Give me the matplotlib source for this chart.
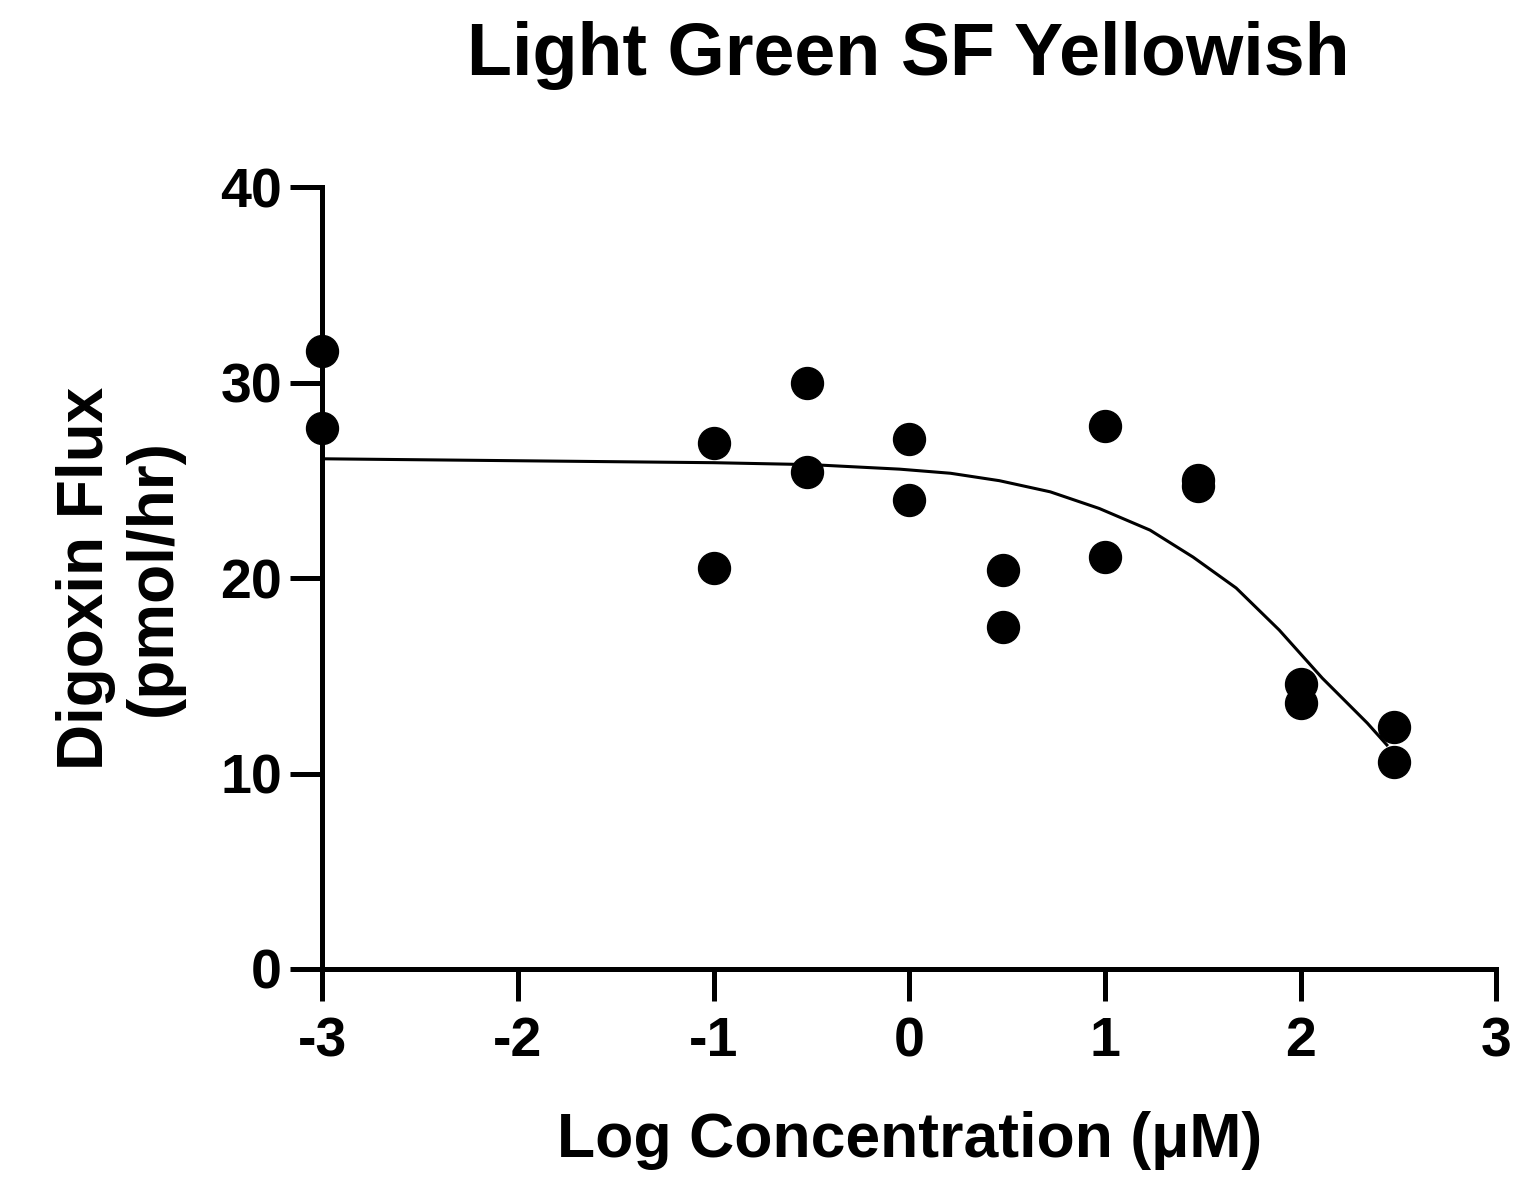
import numpy as np
from matplotlib import pyplot as plt

# measured points (log uM, pmol/hr)
log_conc = [-3, -3, -1, -1, -0.523, -0.523, 0, 0, 0.477, 0.477, 1, 1,
            1.477, 1.477, 2, 2, 2.477, 2.477]
flux = [31.6, 27.7, 26.9, 20.5, 30.0, 25.4, 27.1, 24.0, 20.4, 17.5,
        27.8, 21.1, 25.0, 24.7, 14.6, 13.6, 12.4, 10.6]

# fitted curve
fit_x = [-3, -2, -1, -0.5, -0.05, 0.21, 0.46, 0.72, 0.97, 1.23, 1.45,
         1.67, 1.89, 2.11, 2.34, 2.44]
fit_y = [26.1, 26.0, 25.9, 25.8, 25.57, 25.36, 24.98, 24.41, 23.56, 22.45, 21.07,
         19.49, 17.34, 14.88, 12.58, 11.46]

x_ticks = [-3, -2, -1, 0, 1, 2, 3]
y_ticks = [0, 10, 20, 30, 40]

plt.rcParams['font.family'] = ['Liberation Sans', 'DejaVu Sans']
plt.rcParams['font.weight'] = 'bold'

fig = plt.figure(figsize=(15.27, 11.84), dpi=100)
ax = fig.add_axes([0.211, 0.1816, 0.769, 0.6604])

ax.plot(fit_x, fit_y, color='black', lw=2.2, zorder=2)
ax.plot(log_conc, flux, 'o', color='black', ms=23, zorder=3, clip_on=False)

ax.set_xlim(-3, 3)
ax.set_ylim(0, 40)
ax.set_xticks(x_ticks)
ax.set_yticks(y_ticks)
ax.set_xticklabels([str(t) for t in x_ticks])
ax.set_yticklabels([str(t) for t in y_ticks])

for s in ['top', 'right']:
    ax.spines[s].set_visible(False)
for s in ['left', 'bottom']:
    ax.spines[s].set_linewidth(3.6)
ax.tick_params(direction='out', length=23, width=3.6, labelsize=40)
ax.tick_params(axis='x', pad=11)
ax.tick_params(axis='y', pad=6)
for lab in ax.get_xticklabels() + ax.get_yticklabels():
    lab.set_fontweight('bold')

ax.set_xlabel('Log Concentration (μM)', fontsize=45, fontweight='bold', labelpad=31)
ax.set_ylabel('Digoxin Flux\n(pmol/hr)', fontsize=46, fontweight='bold', labelpad=26, linespacing=1.18)
fig.suptitle('Light Green SF Yellowish', fontsize=53, fontweight='bold', x=0.595, y=0.982)

fig.savefig('out.png', dpi=100)
